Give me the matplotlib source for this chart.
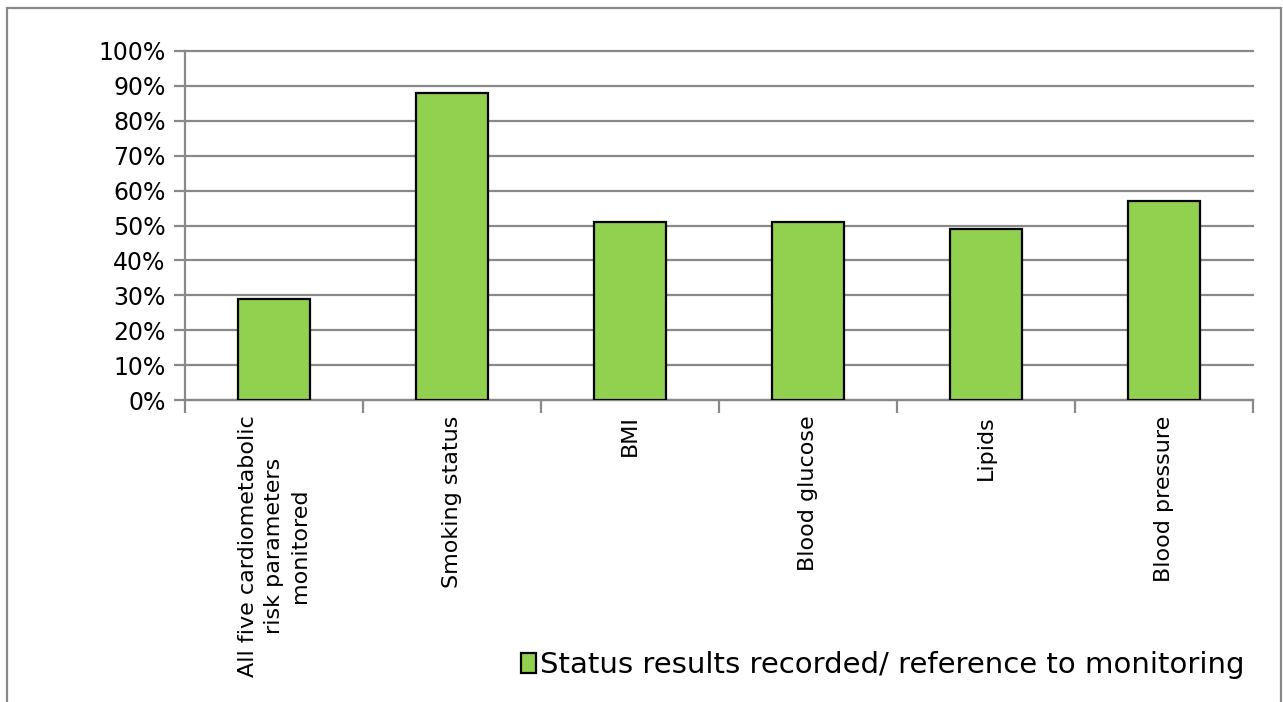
import matplotlib.pyplot as plt
from matplotlib.patches import Rectangle, Patch

categories = ['All five cardiometabolic\nrisk parameters\nmonitored', 'Smoking status', 'BMI',
              'Blood glucose', 'Lipids', 'Blood pressure']
values = [29, 88, 51, 51, 49, 57]
yticks = list(range(0, 101, 10))
legend_label = 'Status results recorded/ reference to monitoring'

W, H = 1283, 702
fig = plt.figure(figsize=(W / 100, H / 100), dpi=100)
ax = fig.add_axes([185 / W, 1 - 400 / H, (1253 - 185) / W, (400 - 51) / H])

gray = '#898989'
green = '#92D050'

# outer chart frame (bottom edge is cut off in the original)
fig.patches.append(Rectangle((7 / W, -0.1), (1281 - 7) / W, 1.1 - 8 / H,
                             transform=fig.transFigure, fill=False,
                             edgecolor=gray, lw=1.6))

x = list(range(len(categories)))
ax.bar(x, values, width=0.4, color=green, edgecolor='black', linewidth=1.6, zorder=3)

ax.set_ylim(0, 100)
ax.set_xlim(-0.5, len(categories) - 0.5)
ax.set_yticks(yticks)
ax.set_yticklabels([f'{t}%' for t in yticks], fontsize=17)
ax.yaxis.grid(True, color=gray, linewidth=1.6, zorder=0)
for gl in ax.get_ygridlines():
    gl.set_clip_on(False)
ax.set_axisbelow(True)

ax.set_xticks(x)
ax.set_xticklabels(categories, rotation=90, fontsize=16, ha='center', va='top',
                   multialignment='center', linespacing=1.35)
ax.set_xticks([i - 0.5 for i in range(len(categories) + 1)], minor=True)
ax.tick_params(axis='x', which='major', length=0, pad=11)
ax.tick_params(axis='x', which='minor', length=9, width=1.6, color=gray, direction='out')
ax.tick_params(axis='y', length=8, width=1.6, color=gray, direction='out', pad=6)

for s in ['top', 'right']:
    ax.spines[s].set_visible(False)
for s in ['left', 'bottom']:
    ax.spines[s].set_color(gray)
    ax.spines[s].set_linewidth(1.6)

handle = Patch(facecolor=green, edgecolor='black', linewidth=1.6)
fig.legend([handle], [legend_label], loc='center right',
           bbox_to_anchor=(1259 / W, 1 - 665 / H), frameon=False, fontsize=21,
           handlelength=0.5, handleheight=0.7, handletextpad=0.15, borderpad=0)

fig.savefig('out.png', dpi=100)
